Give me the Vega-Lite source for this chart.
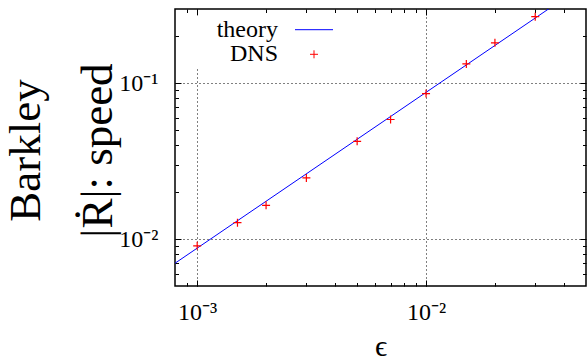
{
  "$schema": "https://vega.github.io/schema/vega-lite/v6.json",
  "autosize": {"type": "none"},
  "padding": {"left": 175, "top": 9, "right": 1, "bottom": 73},
  "width": 411,
  "height": 277,
  "background": "white",
  "datasets": {
    "theory": [
      {"eps": 0.0008, "v": 0.007, "series": "theory"},
      {"eps": 0.05, "v": 0.4375, "series": "theory"}
    ],
    "dns": [
      {"eps": 0.001, "v": 0.00906, "series": "DNS"},
      {"eps": 0.0015, "v": 0.01274, "series": "DNS"},
      {"eps": 0.002, "v": 0.01648, "series": "DNS"},
      {"eps": 0.003, "v": 0.0247, "series": "DNS"},
      {"eps": 0.005, "v": 0.0424, "series": "DNS"},
      {"eps": 0.007, "v": 0.0586, "series": "DNS"},
      {"eps": 0.01, "v": 0.0859, "series": "DNS"},
      {"eps": 0.015, "v": 0.1333, "series": "DNS"},
      {"eps": 0.02, "v": 0.182, "series": "DNS"},
      {"eps": 0.03, "v": 0.268, "series": "DNS"}
    ]
  },
  "layer": [
    {
      "data": {"name": "theory"},
      "mark": {"type": "line", "clip": true, "strokeWidth": 1},
      "encoding": {
        "x": {
          "field": "eps", "type": "quantitative",
          "scale": {"type": "log", "domain": [0.0008, 0.05], "nice": false},
          "axis": {
            "orient": "bottom",
            "values": [0.0009, 0.001, 0.002, 0.003, 0.004, 0.005, 0.006, 0.007, 0.008, 0.009, 0.01, 0.02, 0.03, 0.04],
            "labelExpr": "abs(log(datum.value)/LN10 - round(log(datum.value)/LN10)) < 0.0001 ? '10⁻' + ['⁰','¹','²','³','⁴'][abs(round(log(datum.value)/LN10))] : ''",
            "tickSize": {"condition": {"test": "abs(log(datum.value)/LN10 - round(log(datum.value)/LN10)) < 0.0001", "value": -6}, "value": -3.5},
            "grid": true,
            "gridOpacity": {"condition": {"test": "abs(log(datum.value)/LN10 - round(log(datum.value)/LN10)) < 0.0001", "value": 1}, "value": 0},
            "gridDash": [1, 3],
            "gridColor": "black",
            "gridWidth": 1,
            "domain": false,
            "labelPadding": 20,
            "labelFlush": false,
            "labelOverlap": false,
            "title": "ϵ",
            "titleFontSize": 30,
            "titleBaseline": "alphabetic",
            "titleY": 69
          }
        },
        "y": {
          "field": "v", "type": "quantitative",
          "scale": {"type": "log", "domain": [0.005, 0.3], "nice": false},
          "axis": {
            "orient": "left",
            "values": [0.006, 0.007, 0.008, 0.009, 0.01, 0.02, 0.03, 0.04, 0.05, 0.06, 0.07, 0.08, 0.09, 0.1, 0.2],
            "labelExpr": "abs(log(datum.value)/LN10 - round(log(datum.value)/LN10)) < 0.0001 ? '10⁻' + ['⁰','¹','²','³','⁴'][abs(round(log(datum.value)/LN10))] : ''",
            "tickSize": {"condition": {"test": "abs(log(datum.value)/LN10 - round(log(datum.value)/LN10)) < 0.0001", "value": -6}, "value": -3.5},
            "grid": true,
            "gridOpacity": {"condition": {"test": "abs(log(datum.value)/LN10 - round(log(datum.value)/LN10)) < 0.0001", "value": 1}, "value": 0},
            "gridDash": [1, 3],
            "gridColor": "black",
            "gridWidth": 1,
            "domain": false,
            "labelPadding": 23,
            "labelFlush": false,
            "labelOverlap": false,
            "title": ["Barkley", "|Ṙ|: speed"],
            "titleFontSize": 45,
            "titleLineHeight": 72,
            "titleAngle": 270,
            "titleBaseline": "bottom",
            "titleX": -127,
            "titleY": 141
          }
        },
        "color": {
          "field": "series", "type": "nominal",
          "scale": {"domain": ["theory", "DNS"], "range": ["#0000ff", "#ff0000"]},
          "legend": {
            "orient": "none",
            "legendX": 13,
            "legendY": 6.7,
            "title": null,
            "columns": 1,
            "labelFont": "Liberation Serif",
            "labelFontSize": 24,
            "labelColor": "black",
            "labelAlign": "right",
            "labelOffset": -48,
            "symbolOffset": 112,
            "symbolSize": 64,
            "symbolStrokeWidth": 1,
            "rowPadding": 0.6,
            "fillColor": "white",
            "padding": 2,
            "labelExpr": "datum.label === 'DNS' ? '\u00a0\u00a0\u00a0\u00a0\u00a0\u00a0DNS' : '\u00a0\u00a0\u00a0\u00a0' + datum.label",
            "encode": {
              "symbols": {
                "update": {
                  "shape": {"signal": "datum.value === 'theory' ? 'M-4.75,0H4.75' : 'M-1,0H1M0,-1V1'"},
                  "fill": {"value": "transparent"},
                  "stroke": {"signal": "datum.value === 'theory' ? '#0000ff' : '#ff0000'"},
                  "strokeWidth": {"value": 1}
                }
              }
            }
          }
        }
      }
    },
    {
      "data": {"name": "dns"},
      "mark": {"type": "point", "shape": "M-1,0H1M0,-1V1", "size": 64, "filled": false, "strokeWidth": 1.2, "opacity": 1, "clip": true},
      "encoding": {
        "x": {
          "field": "eps", "type": "quantitative",
          "scale": {"type": "log", "domain": [0.0008, 0.05], "nice": false},
          "axis": {
            "orient": "top",
            "values": [0.0009, 0.001, 0.002, 0.003, 0.004, 0.005, 0.006, 0.007, 0.008, 0.009, 0.01, 0.02, 0.03, 0.04],
            "labels": false,
            "tickSize": {"condition": {"test": "abs(log(datum.value)/LN10 - round(log(datum.value)/LN10)) < 0.0001", "value": -6}, "value": -3.5},
            "grid": false,
            "domain": false,
            "title": null
          }
        },
        "y": {
          "field": "v", "type": "quantitative",
          "scale": {"type": "log", "domain": [0.005, 0.3], "nice": false},
          "axis": {
            "orient": "right",
            "values": [0.006, 0.007, 0.008, 0.009, 0.01, 0.02, 0.03, 0.04, 0.05, 0.06, 0.07, 0.08, 0.09, 0.1, 0.2],
            "labels": false,
            "tickSize": {"condition": {"test": "abs(log(datum.value)/LN10 - round(log(datum.value)/LN10)) < 0.0001", "value": -6}, "value": -3.5},
            "grid": false,
            "domain": false,
            "title": null
          }
        },
        "color": {"field": "series", "type": "nominal"}
      }
    }
  ],
  "resolve": {"axis": {"x": "independent", "y": "independent"}},
  "config": {
    "view": {"stroke": "black", "strokeWidth": 1.5},
    "axis": {
      "labelFont": "Liberation Serif",
      "labelFontSize": 24,
      "labelColor": "black",
      "titleFont": "Liberation Serif",
      "titleFontWeight": "normal",
      "titleColor": "black",
      "tickColor": "black",
      "tickWidth": 1
    },
    "legend": {"labelFont": "Liberation Serif"}
  }
}
